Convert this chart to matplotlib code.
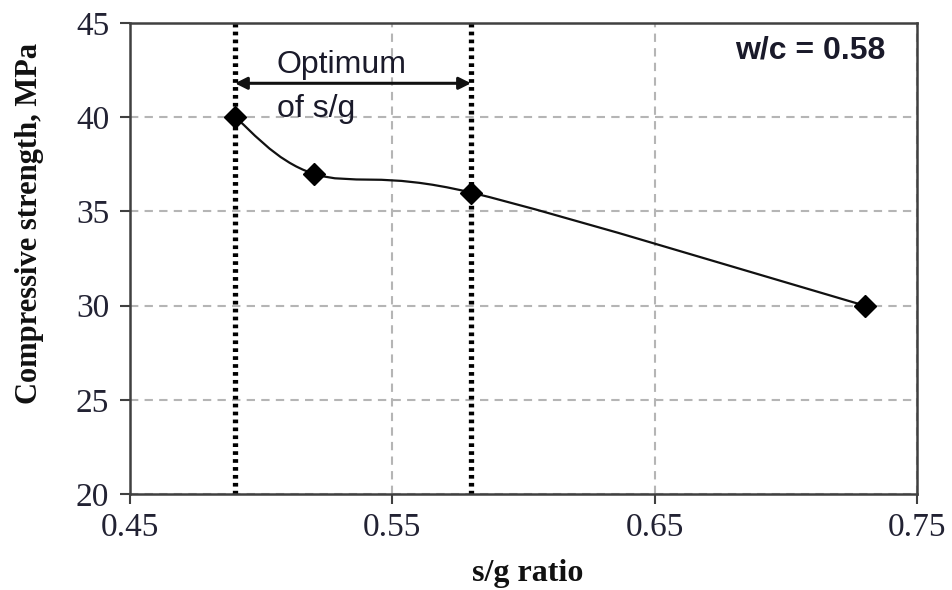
import matplotlib
matplotlib.use("Agg")
import matplotlib.pyplot as plt
from matplotlib.path import Path
from matplotlib.patches import PathPatch
import numpy as np

# Data
sg_ratio = [0.49, 0.52, 0.58, 0.73]
strength = [40, 37, 36, 30]
optimum_bounds = [0.49, 0.58]
x_ticks = [0.45, 0.55, 0.65, 0.75]
y_ticks = [20, 25, 30, 35, 40, 45]
x_tick_labels = ["0.45", "0.55", "0.65", "0.75"]
y_tick_labels = ["20", "25", "30", "35", "40", "45"]

fig = plt.figure(figsize=(9.52, 5.9), dpi=100)
ax = fig.add_axes([130/952, 1-494/590, (917-130)/952, (494-23)/590])
ax.set_xlim(0.45, 0.75)
ax.set_ylim(20, 45)

serif = ["Liberation Serif", "DejaVu Serif"]
sans = ["Liberation Sans", "DejaVu Sans"]

# grid
ax.set_xticks(x_ticks)
ax.set_yticks(y_ticks)
ax.set_xticklabels(x_tick_labels, fontfamily=serif, fontsize=24)
ax.set_yticklabels(y_tick_labels, fontfamily=serif, fontsize=24)
ax.grid(True, color="#b5b5b5", linestyle=(0, (4, 3)), linewidth=1.5, zorder=0)
ax.tick_params(axis="both", direction="out", length=7, width=1.5, color="#404040", labelcolor="#222233")
ax.tick_params(axis="y", pad=8)
ax.tick_params(axis="x", pad=6)
for s in ax.spines.values():
    s.set_color("#404040")
    s.set_linewidth(1.8)

# dotted optimum bounds
for xv in optimum_bounds:
    ax.axvline(xv, color="black", linestyle=(0, (0.7, 0.8)), linewidth=3.8, zorder=2)

# smoothed line (Excel-style Bezier smoothing, control points from data)
sx = 787/0.3
sy = 471/25.0
P = np.column_stack([np.array(sg_ratio)*sx, np.array(strength)*sy])
verts = [tuple(P[0])]
codes = [Path.MOVETO]
n = len(P)
for i in range(n-1):
    p_prev = P[i-1] if i > 0 else P[i]
    p0 = P[i]
    p1 = P[i+1]
    p_next = P[i+2] if i+2 < n else P[i+1]
    c1 = p0 + (p1 - p_prev)/6.0
    c2 = p1 - (p_next - p0)/6.0
    verts += [tuple(c1), tuple(c2), tuple(p1)]
    codes += [Path.CURVE4]*3
verts = [(vx/sx, vy/sy) for vx, vy in verts]
path = Path(verts, codes)
ax.add_patch(PathPatch(path, facecolor="none", edgecolor="#111111", linewidth=1.6, zorder=3))

ax.plot(sg_ratio, strength, linestyle="none", marker="D", markersize=11,
        color="black", zorder=4)

# arrow
ax.annotate("", xy=(optimum_bounds[1], 41.8), xytext=(optimum_bounds[0], 41.8),
            arrowprops=dict(arrowstyle="<|-|>", color="#111111", lw=2.2,
                            mutation_scale=18, shrinkA=0, shrinkB=0), zorder=5)
ax.text(0.506, 42.75, "Optimum", fontfamily=sans, fontsize=23, color="#1a1a2a",
        ha="left", va="center", zorder=5)
ax.text(0.506, 40.45, "of s/g", fontfamily=sans, fontsize=23, color="#1a1a2a",
        ha="left", va="center", zorder=5)

ax.text(0.738, 43.55, "w/c = 0.58", fontfamily=sans, fontsize=23, fontweight="bold",
        color="#1a1a2a", ha="right", va="center")

fig.text(30/952, 1-223/590, "Compressive strength, MPa", rotation=90, fontfamily=serif,
         fontsize=22, fontweight="bold", ha="center", va="center", color="#111111")
fig.text(528/952, 1-573/590, "s/g ratio", fontfamily=serif, fontsize=23,
         fontweight="bold", ha="center", va="center", color="#111111")

fig.savefig("out.png", dpi=100)
